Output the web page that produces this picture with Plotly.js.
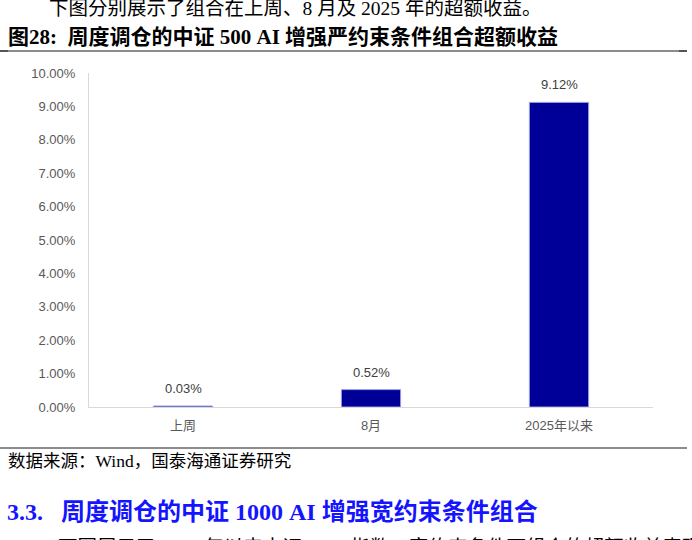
<!DOCTYPE html>
<html>
<head>
<meta charset="utf-8">
<script src="https://cdn.plot.ly/plotly-3.0.1.min.js"></script>
<style>
html,body{margin:0;padding:0;background:#fff;}
#chart{width:692px;height:540px;}
</style>
</head>
<body>
<div id="chart"></div>
<script>
const categories = ["上周", "8月", "2025年以来"];
const excessReturn = [0.03, 0.52, 9.12];
const valueLabels = ["0.03%", "0.52%", "9.12%"];
const yTickVals = [0, 1, 2, 3, 4, 5, 6, 7, 8, 9, 10];
const yTickText = ["0.00%", "1.00%", "2.00%", "3.00%", "4.00%", "5.00%", "6.00%", "7.00%", "8.00%", "9.00%", "10.00%"];

// pixel geometry of the plot area
const L = 89, R = 653, T = 73, B = 407;
const W = 692, H = 540;
const px = x => (x - L) / (R - L);
const py = y => (B - y) / (B - T);

const serif = '"Liberation Serif", "Noto Sans CJK SC", serif';
const sans = 'Arial, "Liberation Sans", "Noto Sans CJK SC", sans-serif';

const trace = {
  type: 'bar',
  x: categories,
  y: excessReturn,
  marker: {color: '#000099', line: {color: '#9a9ae6', width: 1}},
  width: 0.315,
  hoverinfo: 'skip'
};

// value labels above bars, positioned through the data scales
const valueAnnotations = categories.map((c, i) => ({
  x: c, y: excessReturn[i], xref: 'x', yref: 'y',
  text: valueLabels[i], showarrow: false,
  yanchor: 'bottom', yshift: 8,
  font: {family: sans, size: 13, color: '#404040'}
}));

const textAnnotations = [
  {text: '下图分别展示了组合在上周、8 月及 2025 年的超额收益。', x: px(47), y: py(8), xanchor: 'left', yanchor: 'middle',
   font: {family: serif, size: 19.5, color: '#000'}},
  {text: '<b>图28:  周度调仓的中证 500 AI 增强严约束条件组合超额收益</b>', x: px(6), y: py(37), xanchor: 'left', yanchor: 'middle',
   font: {family: serif, size: 21, color: '#000'}},
  {text: '数据来源：Wind，国泰海通证券研究', x: px(6), y: py(461), xanchor: 'left', yanchor: 'middle',
   font: {family: serif, size: 17.5, color: '#000'}},
  {text: '<b>3.3.   周度调仓的中证 1000 AI 增强宽约束条件组合</b>', x: px(5), y: py(512), xanchor: 'left', yanchor: 'middle',
   font: {family: serif, size: 24, color: '#1414ff'}},
  {text: '下图展示了 2025 年以来中证 1000 指数、宽约束条件下组合的超额收益表现', x: px(56), y: py(547), xanchor: 'left', yanchor: 'middle',
   font: {family: serif, size: 19.5, color: '#000'}}
];
textAnnotations.forEach(a => { a.xref = 'paper'; a.yref = 'paper'; a.showarrow = false; });

const shapes = [
  {type: 'line', xref: 'paper', yref: 'paper', x0: px(0), x1: px(687), y0: py(51), y1: py(51), line: {color: '#8c8c8c', width: 2}},
  {type: 'line', xref: 'paper', yref: 'paper', x0: px(0), x1: px(8), y0: py(51), y1: py(51), line: {color: '#555', width: 2}},
  {type: 'line', xref: 'paper', yref: 'paper', x0: px(679), x1: px(687), y0: py(51), y1: py(51), line: {color: '#555', width: 2}},
  {type: 'line', xref: 'paper', yref: 'paper', x0: px(0), x1: px(687), y0: py(448), y1: py(448), line: {color: '#8c8c8c', width: 2}}
];

const layout = {
  width: W, height: H,
  margin: {l: L, r: W - R, t: T, b: H - B},
  paper_bgcolor: '#fff', plot_bgcolor: '#fff',
  showlegend: false,
  xaxis: {
    type: 'category', showline: true, linecolor: '#d9d9d9', linewidth: 1,
    showgrid: false, ticks: '', zeroline: false, ticklabelstandoff: 6,
    tickfont: {family: sans, size: 13, color: '#595959'}
  },
  yaxis: {
    range: [0, 10], tickvals: yTickVals, ticktext: yTickText,
    showline: true, linecolor: '#d9d9d9', linewidth: 1,
    showgrid: false, zeroline: false, ticks: '', ticklen: 0, ticklabelstandoff: 10,
    tickfont: {family: sans, size: 13, color: '#595959'}
  },
  annotations: valueAnnotations.concat(textAnnotations),
  shapes: shapes
};

Plotly.newPlot('chart', [trace], layout, {displayModeBar: false, staticPlot: true});
</script>
</body>
</html>
